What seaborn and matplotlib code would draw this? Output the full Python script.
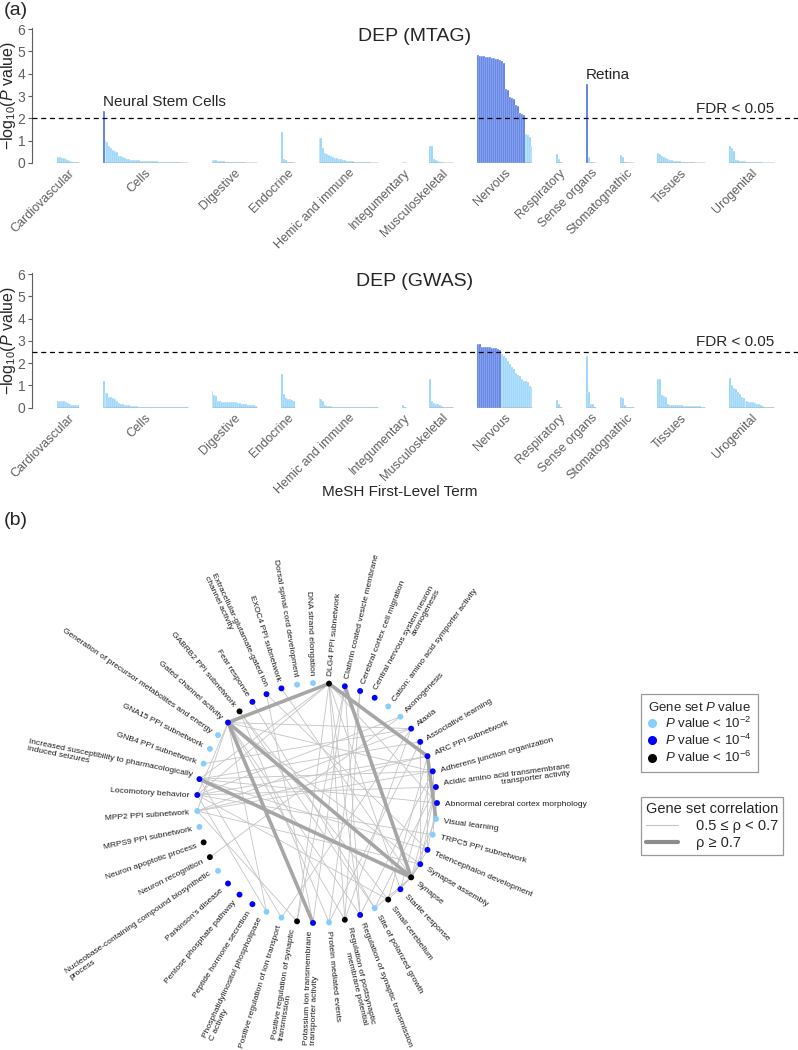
import numpy as np
import pandas as pd
import matplotlib
matplotlib.use("Agg")
import matplotlib.pyplot as plt
import seaborn as sns
from matplotlib.lines import Line2D

sns.set_theme(style="white")
plt.rcParams["font.family"] = ["Liberation Sans", "DejaVu Sans"]
plt.rcParams["mathtext.fontset"] = "custom"
plt.rcParams["mathtext.rm"] = "Liberation Sans"
plt.rcParams["mathtext.it"] = "Liberation Sans:italic"
plt.rcParams["mathtext.sf"] = "Liberation Sans"

# ---------------- data: panel (a) ----------------
categories = ["Cardiovascular", "Cells", "Digestive", "Endocrine", "Hemic and immune",
              "Integumentary", "Musculoskeletal", "Nervous", "Respiratory", "Sense organs",
              "Stomatognathic", "Tissues", "Urogenital"]

mtag_cardiovascular = [0.27, 0.26, 0.24, 0.22, 0.19, 0.14, 0.07, 0.06, 0.05, 0.05, 0.05]
mtag_cells = [2.32, 1.05, 0.95, 0.75, 0.65, 0.57, 0.55, 0.50, 0.33, 0.30, 0.27, 0.22, 0.20, 0.17,
              0.15, 0.14, 0.13, 0.12, 0.12, 0.11, 0.10, 0.10, 0.09, 0.09, 0.08, 0.08, 0.07, 0.07,
              0.06, 0.06, 0.05, 0.05, 0.05, 0.04, 0.04, 0.04, 0.03, 0.03, 0.03, 0.02, 0.02, 0.02, 0.02]
mtag_digestive = [0.15, 0.14, 0.12, 0.10, 0.09, 0.08, 0.07, 0.06, 0.05, 0.05, 0.04, 0.04, 0.04,
                  0.03, 0.03, 0.03, 0.03, 0.02, 0.02, 0.02, 0.02, 0.02, 0.02]
mtag_endocrine = [1.40, 0.20, 0.15, 0.06, 0.04, 0.03, 0.02]
mtag_hemic = [1.10, 1.10, 0.65, 0.47, 0.42, 0.37, 0.30, 0.26, 0.24, 0.22, 0.20, 0.18, 0.15, 0.13,
              0.11, 0.10, 0.08, 0.07, 0.06, 0.05, 0.05, 0.04, 0.04, 0.03, 0.03, 0.03, 0.02, 0.02,
              0.02, 0.02]
mtag_integumentary = [0.02, 0.01]
mtag_musculoskeletal = [0.77, 0.77, 0.20, 0.12, 0.08, 0.04, 0.03, 0.02, 0.02, 0.02, 0.02, 0.02]
mtag_nervous = [4.82, 4.80, 4.79, 4.78, 4.77, 4.76, 4.74, 4.72, 4.70, 4.68, 4.65, 4.62, 4.57, 4.50,
                3.30, 3.25, 2.95, 2.93, 2.85, 2.60, 2.55, 2.25, 2.20, 2.15, 1.30, 1.25, 1.15, 0.75]
mtag_respiratory = [0.42, 0.18, 0.03]
mtag_sense = [3.53, 0.27, 0.05, 0.03, 0.02]
mtag_stomatognathic = [0.35, 0.28, 0.05, 0.03, 0.02, 0.02, 0.02]
mtag_tissues = [0.45, 0.40, 0.32, 0.27, 0.22, 0.18, 0.15, 0.13, 0.11, 0.10, 0.08, 0.07, 0.06, 0.05,
                0.04, 0.04, 0.03, 0.03, 0.03, 0.02, 0.02, 0.02, 0.02, 0.02]
mtag_urogenital = [0.75, 0.68, 0.55, 0.15, 0.12, 0.10, 0.09, 0.08, 0.07, 0.06, 0.05, 0.05, 0.04,
                   0.04, 0.03, 0.03, 0.03, 0.02, 0.02, 0.02, 0.02, 0.02, 0.02]

gwas_cardiovascular = [0.32, 0.32, 0.30, 0.30, 0.27, 0.22, 0.17, 0.14, 0.13, 0.13, 0.12]
gwas_cells = [1.20, 0.68, 0.66, 0.50, 0.47, 0.44, 0.38, 0.30, 0.22, 0.18, 0.15, 0.13, 0.11, 0.10,
              0.09, 0.08, 0.07, 0.06, 0.05, 0.05, 0.04, 0.04, 0.04, 0.03, 0.03, 0.03, 0.03, 0.02,
              0.02, 0.02, 0.02, 0.02, 0.02, 0.02, 0.02, 0.01, 0.01, 0.01, 0.01, 0.01, 0.01, 0.01, 0.01]
gwas_digestive = [0.75, 0.55, 0.52, 0.32, 0.28, 0.27, 0.27, 0.27, 0.26, 0.26, 0.25, 0.25, 0.24,
                  0.22, 0.20, 0.18, 0.16, 0.15, 0.13, 0.12, 0.10, 0.10, 0.08]
gwas_endocrine = [1.52, 0.60, 0.45, 0.38, 0.37, 0.36, 0.30]
gwas_hemic = [0.42, 0.40, 0.30, 0.10, 0.08, 0.07, 0.06, 0.05, 0.05, 0.04, 0.04, 0.03, 0.03, 0.03,
              0.03, 0.02, 0.02, 0.02, 0.02, 0.02, 0.02, 0.02, 0.02, 0.01, 0.01, 0.01, 0.01, 0.01,
              0.01, 0.01]
gwas_integumentary = [0.10, 0.01]
gwas_musculoskeletal = [1.30, 0.32, 0.20, 0.18, 0.16, 0.12, 0.08, 0.04, 0.03, 0.02, 0.02, 0.02]
gwas_nervous = [2.87, 2.87, 2.73, 2.73, 2.72, 2.72, 2.71, 2.70, 2.69, 2.68, 2.65, 2.60, 2.42, 2.32,
                2.22, 2.10, 1.95, 1.85, 1.72, 1.55, 1.45, 1.42, 1.30, 1.20, 1.18, 1.15, 0.97, 0.95]
gwas_respiratory = [0.35, 0.18, 0.04]
gwas_sense = [2.33, 0.70, 0.18, 0.18, 0.03]
gwas_stomatognathic = [0.50, 0.42, 0.12, 0.05, 0.03, 0.02, 0.02]
gwas_tissues = [1.30, 1.30, 0.55, 0.52, 0.48, 0.15, 0.14, 0.13, 0.12, 0.12, 0.11, 0.10, 0.10, 0.09,
                0.09, 0.08, 0.08, 0.08, 0.07, 0.07, 0.06, 0.06, 0.05, 0.05]
gwas_urogenital = [1.32, 1.02, 0.88, 0.82, 0.72, 0.60, 0.50, 0.45, 0.30, 0.28, 0.27, 0.27, 0.26,
                   0.22, 0.18, 0.15, 0.12, 0.08, 0.05, 0.03, 0.02, 0.02, 0.02]

mtag_groups = [mtag_cardiovascular, mtag_cells, mtag_digestive, mtag_endocrine, mtag_hemic,
               mtag_integumentary, mtag_musculoskeletal, mtag_nervous, mtag_respiratory,
               mtag_sense, mtag_stomatognathic, mtag_tissues, mtag_urogenital]
gwas_groups = [gwas_cardiovascular, gwas_cells, gwas_digestive, gwas_endocrine, gwas_hemic,
               gwas_integumentary, gwas_musculoskeletal, gwas_nervous, gwas_respiratory,
               gwas_sense, gwas_stomatognathic, gwas_tissues, gwas_urogenital]
mtag_fdr = 2.0
gwas_fdr = 2.5

# ---------------- data: panel (b) ----------------
node_names = [
    "Abnormal cerebral cortex morphology",
    "Acidic amino acid transmembrane\ntransporter activity",
    "Adherens junction organization",
    "ARC PPI subnetwork",
    "Associative learning",
    "Ataxia",
    "Axonogenesis",
    "Cation: amino acid symporter activity",
    "Central nervous system neuron\naxonogenesis",
    "Cerebral cortex cell migration",
    "Clathrin coated vesicle membrane",
    "DLG4 PPI subnetwork",
    "DNA strand elongation",
    "Dorsal spinal cord development",
    "EXOC4 PPI subnetwork",
    "Extracellular-glutamate-gated ion\nchannel activity",
    "Fear response",
    "GABRB2 PPI subnetwork",
    "Gated channel activity",
    "Generation of precursor metabolites and energy",
    "GNA15 PPI subnetwork",
    "GNB4 PPI subnetwork",
    "Increased susceptibility to pharmacologically\ninduced seizures",
    "Locomotory behavior",
    "MPP2 PPI subnetwork",
    "MRPS9 PPI subnetwork",
    "Neuron apoptotic process",
    "Neuron recognition",
    "Nucleobase-containing compound biosynthetic\nprocess",
    "Parkinson's disease",
    "Pentose phosphate pathway",
    "Peptide hormone secretion",
    "Phosphatidylinositol phospholipase\nC activity",
    "Positive regulation of ion transport",
    "Positive regulation of synaptic\ntransmission",
    "Potassium ion transmembrane\ntransporter activity",
    "Protein mediated events",
    "Regulation of postsynaptic\nmembrane potential",
    "Regulation of synaptic transmission",
    "Site of polarized growth",
    "Small cerebellum",
    "Startle response",
    "Synapse",
    "Synapse assembly",
    "Telencephalon development",
    "TRPC5 PPI subnetwork",
    "Visual learning",
]
node_level = [4, 4, 4, 4, 4, 4, 2, 2, 4, 4, 4, 6, 2, 2, 4, 4, 4, 6, 4, 2, 2, 2, 4, 4,
              2, 2, 6, 6, 2, 4, 4, 4, 2, 2, 6, 4, 2, 6, 4, 2, 6, 4, 6, 4, 4, 2, 2]
strong_edges = [(18, 11), (18, 35), (18, 42), (22, 42), (11, 3), (3, 46), (10, 42)]
weak_edges = [(11, 34), (11, 37), (11, 22), (11, 23), (11, 38), (11, 41), (11, 0),
              (18, 24), (18, 23), (18, 37), (18, 38), (18, 2), (18, 43),
              (17, 36), (17, 40), (15, 35), (15, 44), (16, 39), (14, 42),
              (22, 2), (22, 4), (22, 44), (22, 0), (23, 1), (23, 45), (23, 40),
              (24, 5), (24, 3), (24, 43), (27, 6), (32, 23), (32, 18), (33, 22), (33, 5),
              (34, 24), (34, 10), (35, 10), (36, 9), (36, 4), (37, 9), (37, 5),
              (38, 10), (38, 2), (39, 17), (39, 1), (40, 42), (40, 3), (41, 2), (41, 43),
              (42, 43), (42, 44), (42, 1), (42, 46), (42, 39), (43, 4), (43, 1),
              (44, 0), (44, 3), (45, 2), (6, 23), (5, 21), (5, 18), (3, 23), (2, 24)]

# ---------------- styling ----------------
DARK = "#4169E1"
LIGHT = "#87CEFA"
GREY_TXT = "#5f5f5f"
level_colors = {2: "#87CEFA", 4: "#0000FF", 6: "#000000"}

W, H = 798, 1050
fig = plt.figure(figsize=(W / 100, H / 100), dpi=100)


def px_axes(x0, y_top, x1, y_bot):
    return [x0 / W, 1 - y_bot / H, (x1 - x0) / W, (y_bot - y_top) / H]


def bar_panel(ax, groups, fdr, title, annotate):
    gap, lead = 12, 12.75
    rows, centers, spans = [], [], []
    pos = 0
    for cat, vals in zip(categories, groups):
        start = pos
        for v in vals:
            rows.append((pos, v, "sig" if v > fdr else "ns"))
            pos += 1
        spans.append((start, pos - 1))
        centers.append((start + pos - 1) / 2)
        pos += gap
    last = pos - gap - 1
    df = pd.DataFrame(rows, columns=["pos", "val", "sig"])
    sns.barplot(data=df, x="pos", y="val", hue="sig", palette={"sig": DARK, "ns": LIGHT},
                native_scale=True, width=1, dodge=False, legend=False, errorbar=None,
                saturation=1, edgecolor="white", linewidth=0.3, ax=ax)
    for s, e in spans:
        ax.hlines(0, s - 0.5, e + 0.5, color="#5a5a5a", lw=1.0, zorder=4)
    ax.axhline(fdr, color="black", ls=(0, (4, 3)), lw=0.9, zorder=5)
    ax.set_xlim(-0.5 - lead, last + 0.5 + 12)
    ax.set_ylim(0, 6.05)
    ax.set_yticks(range(0, 7))
    ax.set_xticks(centers)
    ax.set_xticklabels(categories, rotation=45, ha="right", va="top", rotation_mode="anchor",
                       color=GREY_TXT, fontsize=9)
    ax.tick_params(axis="x", length=0, pad=3)
    ax.tick_params(axis="y", length=3, width=0.8, color=GREY_TXT, labelcolor=GREY_TXT,
                   labelsize=10, pad=1.5, left=True)
    for side in ["top", "right", "bottom"]:
        ax.spines[side].set_visible(False)
    ax.spines["left"].set_color(GREY_TXT)
    ax.spines["left"].set_linewidth(0.8)
    ax.set_xlabel("")
    ax.set_ylabel("\u2212log$_{10}$($\\mathit{P}$ value)", fontsize=11.5)
    ax.yaxis.set_label_coords(-0.0185, 0.5)
    ax.text(0.5, 0.935, title, transform=ax.transAxes, ha="center", va="center", fontsize=14)
    ax.text(last + 0.5, fdr + 0.12, "FDR < 0.05", ha="right", va="bottom", fontsize=11)
    for cat_name, label in annotate:
        ci = categories.index(cat_name)
        vals = groups[ci]
        k = int(np.argmax(vals))
        ax.text(spans[ci][0] + k - 0.5, vals[k] + 0.08, label, ha="left", va="bottom",
                fontsize=11)
    ax.patch.set_alpha(0)


ax1 = fig.add_axes(px_axes(31.7, 28, W, 163))
bar_panel(ax1, mtag_groups, mtag_fdr, "DEP (MTAG)",
          [("Cells", "Neural Stem Cells"), ("Sense organs", "Retina")])
ax2 = fig.add_axes(px_axes(31.7, 273, W, 407.7))
bar_panel(ax2, gwas_groups, gwas_fdr, "DEP (GWAS)", [])

fig.text(400 / W, 1 - 492 / H, "MeSH First-Level Term", ha="center", va="center", fontsize=11)
fig.text(4 / W, 1 - 2 / H, "(a)", ha="left", va="top", fontsize=14)
fig.text(4 / W, 1 - 512 / H, "(b)", ha="left", va="top", fontsize=14)

# ---------------- panel (b) network ----------------
CX, CY, R = 317, 803, 120
TOP, RIGHT = 515, 640
axn = fig.add_axes(px_axes(0, TOP, RIGHT, H))
axn.set_xlim(-CX / R, (RIGHT - CX) / R)
axn.set_ylim((CY - H) / R, (CY - TOP) / R)
axn.axis("off")
axn.patch.set_alpha(0)

n = len(node_names)
theta = 2 * np.pi * np.arange(n) / n
nx, ny = np.cos(theta), np.sin(theta)

for a, b in weak_edges:
    axn.plot([nx[a], nx[b]], [ny[a], ny[b]], color="#c4c4c4", lw=0.6, zorder=1,
             solid_capstyle="round")
for a, b in strong_edges:
    axn.plot([nx[a], nx[b]], [ny[a], ny[b]], color="#a6a6a6", lw=2.6, zorder=2,
             solid_capstyle="round")

nodes_df = pd.DataFrame({"x": nx, "y": ny, "level": node_level})
sns.scatterplot(data=nodes_df, x="x", y="y", hue="level", palette=level_colors, s=18,
                linewidth=0, legend=False, ax=axn, zorder=3)
axn.set_xlabel("")
axn.set_ylabel("")

lab_r = 1 + 8 / R
for i, name in enumerate(node_names):
    deg = np.degrees(theta[i])
    if np.cos(theta[i]) >= 0:
        rot, ha, ma = deg if deg <= 90 else deg - 360, "left", "right"
    else:
        rot, ha, ma = deg - 180, "right", "left"
    axn.text(lab_r * nx[i], lab_r * ny[i], name, rotation=rot, ha=ha, va="center_baseline",
             multialignment=ma, rotation_mode="anchor", fontsize=6.0, color="#1a1a1a",
             linespacing=1.05)

# legends
leg1_handles = [Line2D([], [], marker="o", ls="", color=level_colors[k], markersize=5.5)
                for k in (2, 4, 6)]
leg1_labels = ["$\\mathit{P}$ value < 10$^{-2}$", "$\\mathit{P}$ value < 10$^{-4}$",
               "$\\mathit{P}$ value < 10$^{-6}$"]
leg1 = fig.legend(leg1_handles, leg1_labels, title="Gene set $\\mathit{P}$ value",
                  loc="upper left", bbox_to_anchor=(641 / W, 1 - 694 / H), frameon=True,
                  fancybox=False, edgecolor="#808080", fontsize=9.5, title_fontsize=9.5,
                  handlelength=0.6, handletextpad=0.7, borderpad=0.5, labelspacing=0.15,
                  borderaxespad=0)
leg1.get_frame().set_linewidth(0.9)
leg2_handles = [Line2D([], [], color="#c4c4c4", lw=0.8), Line2D([], [], color="#8c8c8c", lw=3)]
leg2_labels = ["0.5 \u2264 \u03c1 < 0.7", "\u03c1 \u2265 0.7"]
leg2 = fig.legend(leg2_handles, leg2_labels, title="Gene set correlation",
                  loc="upper left", bbox_to_anchor=(641 / W, 1 - 797 / H), frameon=True,
                  fancybox=False, edgecolor="#808080", fontsize=10.5, title_fontsize=10.5,
                  handlelength=2.2, handletextpad=1.2, borderpad=0.35, labelspacing=0.2,
                  borderaxespad=0)
leg2.get_frame().set_linewidth(0.9)

fig.savefig("out.png", dpi=100)
